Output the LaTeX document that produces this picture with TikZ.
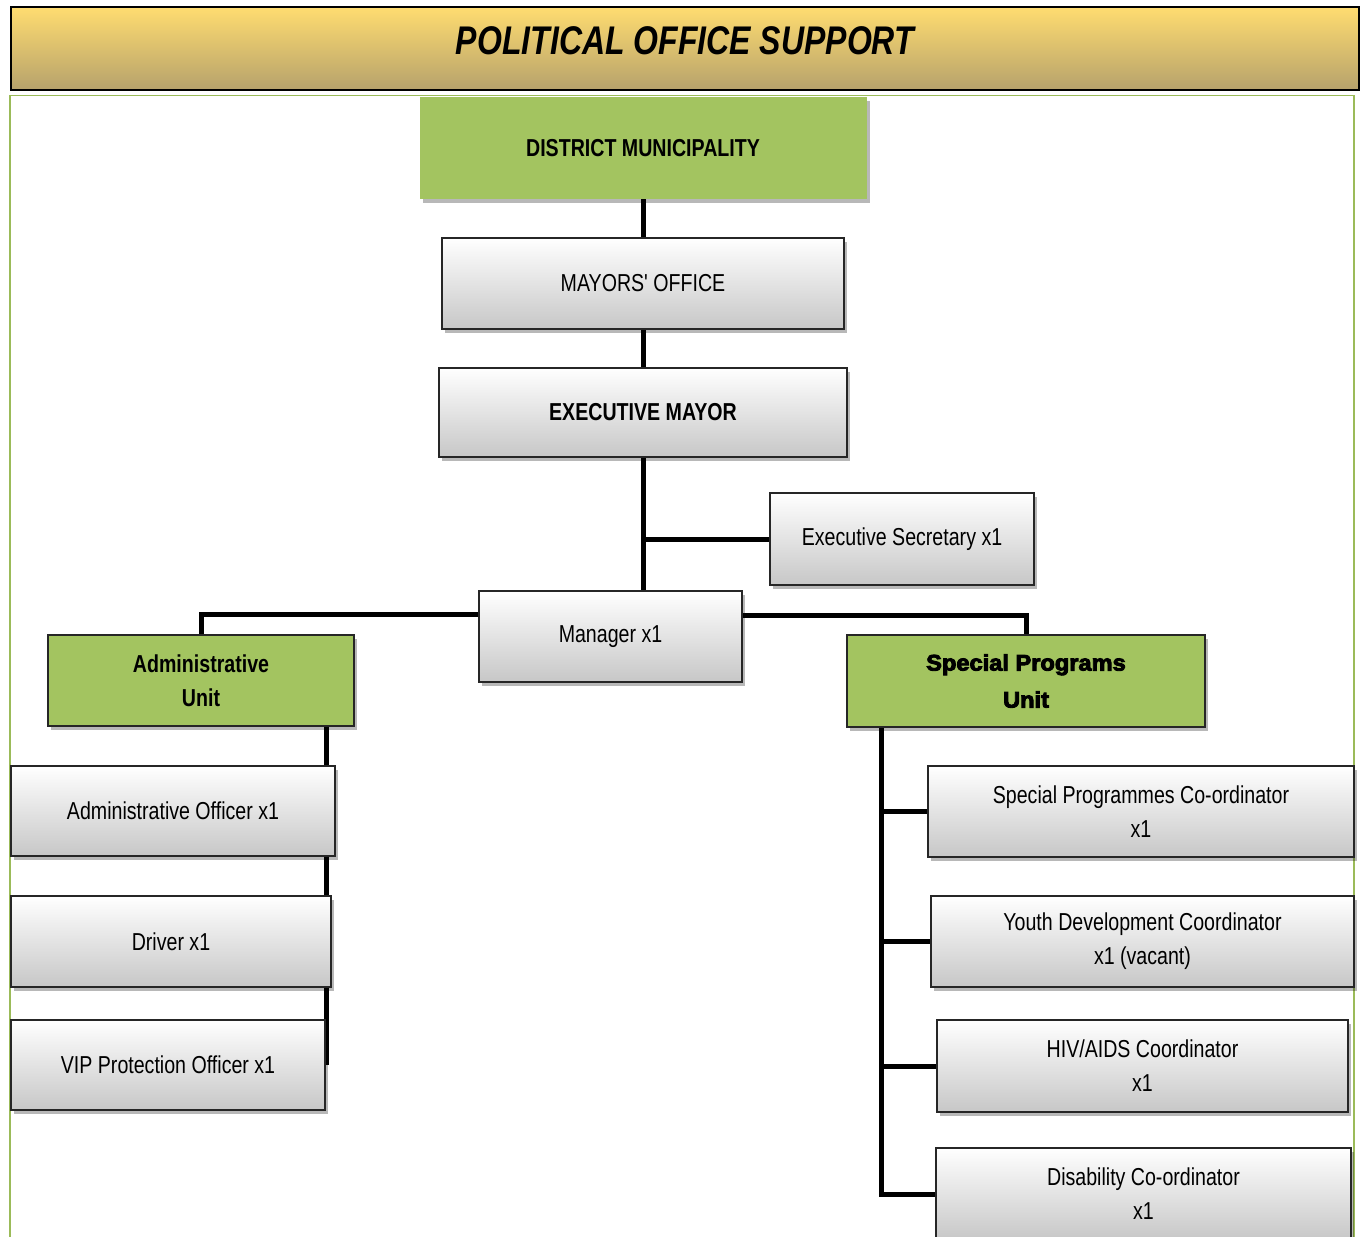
\documentclass[tikz,border=0pt]{standalone}
\usepackage{fontspec}
\setmainfont{Liberation Sans}[FakeStretch=0.8]
\newfontfamily\qfont{Liberation Sans}[FakeStretch=0.8]
\newfontfamily\heavyfont{Liberation Sans}[FakeStretch=1.05,BoldFeatures={FakeBold=4}]
\usetikzlibrary{shadows,backgrounds}
\definecolor{unitgreen}{RGB}{163,196,96}
\definecolor{framegreen}{RGB}{155,187,89}
\definecolor{goldtop}{RGB}{255,220,112}
\definecolor{goldbot}{RGB}{182,162,108}
\newcommand\bodyfont{\fontsize{24.5}{34}\selectfont}
\tikzset{
  shad/.style={drop shadow={shadow xshift=3pt,shadow yshift=-4pt,fill=black,opacity=0.28}},
  graybox/.style={shad,draw=black!85,line width=2.5pt,top color=white,bottom color=black!22,
    align=center,inner sep=2pt,font=\bodyfont},
  greenbox/.style={shad,draw=black!85,line width=2.5pt,fill=unitgreen,align=center,inner sep=2pt,font=\bodyfont\bfseries},
  conn/.style={line width=5pt,black,line join=miter},
}
\begin{document}
\begin{tikzpicture}[x=1pt,y=-1pt]
\useasboundingbox (0,0) rectangle (1364,1236);
\clip (0,0) rectangle (1364,1236);
% green frame
\draw[framegreen,line width=1.5pt] (10,1245) -- (10,95.5) -- (1354,95.5) -- (1354,1245);
% title
\node[draw=black,line width=2.2pt,top color=goldtop,bottom color=goldbot,minimum width=1348pt,minimum height=83pt,inner sep=0pt,
  font=\fontsize{40}{42}\selectfont\bfseries\itshape] (title) at (685,48.5) {\raisebox{15pt}{POLITICAL OFFICE SUPPORT}};
% nodes
\node[shad,fill=unitgreen,minimum width=447pt,minimum height=102pt,inner sep=0pt,font=\bodyfont\bfseries] (dm) at (643,148) {DISTRICT MUNICIPALITY};
\node[graybox,minimum width=402pt,minimum height=91pt] (mo) at (643,283.5) {MAYORS{\qfont'} OFFICE};
\node[graybox,minimum width=408pt,minimum height=89pt,font=\bodyfont\bfseries] (em) at (643,412.5) {EXECUTIVE MAYOR};
\node[graybox,minimum width=264pt,minimum height=92pt] (es) at (902,539) {Executive Secretary x1};
\node[graybox,minimum width=263pt,minimum height=91pt] (mg) at (610.5,636.5) {Manager x1};
\node[greenbox,minimum width=306pt,minimum height=91pt] (au) at (201,680.5) {Administrative\\Unit};
\node[greenbox,minimum width=358pt,minimum height=92pt,font=\heavyfont\fontsize{22.5}{37}\selectfont\bfseries] (su) at (1026,681) {Special Programs\\Unit};
\node[graybox,minimum width=324pt,minimum height=90pt] (ao) at (173,811) {Administrative Officer x1};
\node[graybox,minimum width=320pt,minimum height=91pt] (dr) at (171,941.5) {Driver x1};
\node[graybox,minimum width=314pt,minimum height=90pt] (vip) at (168,1065) {VIP Protection Officer x1};
\node[graybox,minimum width=426pt,minimum height=91pt] (spc) at (1141,811.5) {Special Programmes Co-ordinator\\x1};
\node[graybox,minimum width=423pt,minimum height=91pt] (yd) at (1142.5,941.5) {Youth Development Coordinator\\x1 (vacant)};
\node[graybox,minimum width=411pt,minimum height=92pt] (hiv) at (1142.5,1066) {HIV/AIDS Coordinator\\x1};
\node[graybox,minimum width=415pt,minimum height=92pt] (dc) at (1143.5,1194) {Disability Co-ordinator\\x1};
% connectors
\begin{scope}[on background layer]
\fill[white] (0,0) rectangle (1364,1236);
\draw[conn] (dm.south) -- (mo.north);
\draw[conn] (mo.south) -- (em.north);
\draw[conn] (em.south) -- (em.south |- mg.north);
\draw[conn] (es.west) -- (es.west -| em.south);
\draw[conn] ([yshift=-25pt]mg.north west) -| (au.north);
\draw[conn] ([yshift=-26pt]mg.north east) -| (su.north);
\draw[conn] ([xshift=-29pt]au.south east) -- (vip.east);
\coordinate (trunk) at ([xshift=36pt]su.south west);
\draw[conn] (trunk) |- (dc.west);
\draw[conn] (spc.west) -- (spc.west -| trunk);
\draw[conn] (yd.west) -- (yd.west -| trunk);
\draw[conn] (hiv.west) -- (hiv.west -| trunk);
\end{scope}
\end{tikzpicture}
\end{document}
